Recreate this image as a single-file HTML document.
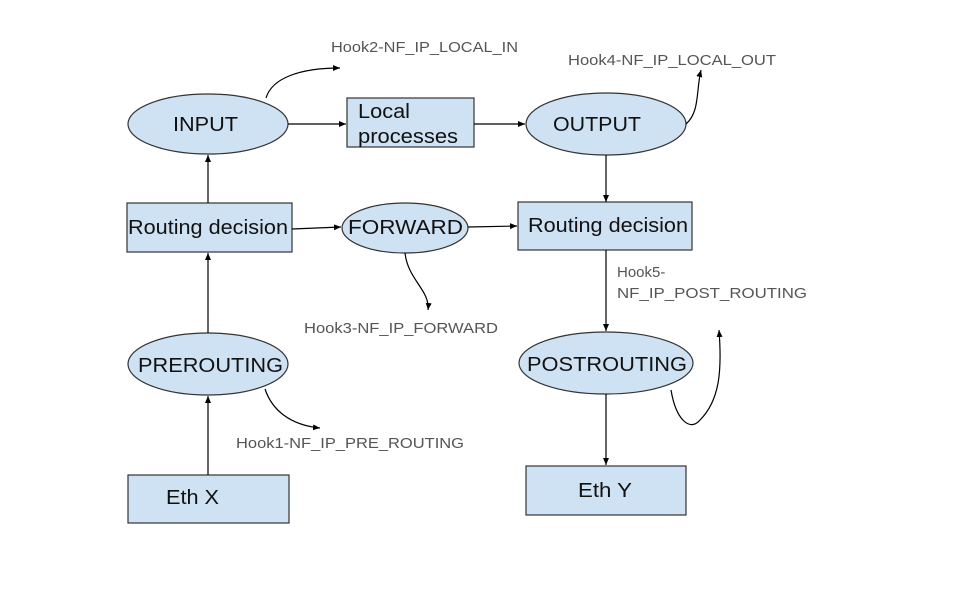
<!DOCTYPE html>
<html><head><meta charset="utf-8"><style>
html,body{margin:0;padding:0;background:#fff;}
svg{display:block;}
.n{font-family:"Liberation Sans",sans-serif;font-size:20px;fill:#111;}
.h{font-family:"Liberation Sans",sans-serif;font-size:15px;fill:#555;}
</style></head><body>
<svg width="972" height="602" viewBox="0 0 972 602" xmlns="http://www.w3.org/2000/svg">
<defs><marker id="a" markerWidth="8" markerHeight="8" refX="7" refY="4" orient="auto" markerUnits="userSpaceOnUse"><path d="M0,1 L7,4 L0,7 z" fill="#000"/></marker></defs>
<g fill="#cfe2f3" stroke="#333" stroke-width="1.2">
<ellipse cx="208" cy="124" rx="80" ry="30"/>
<rect x="347" y="98" width="127" height="49"/>
<ellipse cx="606" cy="124" rx="80" ry="31"/>
<rect x="127" y="203" width="165" height="49"/>
<ellipse cx="405" cy="228" rx="63" ry="25"/>
<rect x="518" y="202" width="174" height="48"/>
<ellipse cx="208" cy="364" rx="80" ry="31"/>
<ellipse cx="606" cy="363" rx="87" ry="31"/>
<rect x="128" y="475" width="161" height="48"/>
<rect x="526" y="466" width="160" height="49"/>
</g>
<g stroke="#000" stroke-width="1.2" fill="none" marker-end="url(#a)">
<line x1="288" y1="124" x2="346" y2="124"/>
<line x1="474" y1="124" x2="525" y2="124"/>
<line x1="208" y1="203" x2="208" y2="155"/>
<line x1="208" y1="333" x2="208" y2="253"/>
<line x1="208" y1="475" x2="208" y2="396"/>
<line x1="292" y1="229" x2="341" y2="227"/>
<line x1="468" y1="227" x2="517" y2="226"/>
<line x1="606" y1="155" x2="606" y2="202"/>
<line x1="606" y1="250" x2="606" y2="331"/>
<line x1="606" y1="394" x2="606" y2="465"/>
<path d="M266,98 C272,78 300,68 340,68"/>
<path d="M686,124 C700,112 696,90 701,70"/>
<path d="M405,253 C408,280 430,290 428,310"/>
<path d="M265,389 C272,410 290,425 320,428"/>
<path d="M671,390 C676,420 690,432 700,420 C720,400 722,370 719,330"/>
</g>
<text class="n" x="173" y="131" textLength="65" lengthAdjust="spacingAndGlyphs">INPUT</text>
<text class="n" x="358" y="118" textLength="52" lengthAdjust="spacingAndGlyphs">Local</text>
<text class="n" x="358" y="143" textLength="100" lengthAdjust="spacingAndGlyphs">processes</text>
<text class="n" x="553" y="131" textLength="88" lengthAdjust="spacingAndGlyphs">OUTPUT</text>
<text class="n" x="128" y="234" textLength="160" lengthAdjust="spacingAndGlyphs">Routing decision</text>
<text class="n" x="348" y="234" textLength="115" lengthAdjust="spacingAndGlyphs">FORWARD</text>
<text class="n" x="528" y="232" textLength="160" lengthAdjust="spacingAndGlyphs">Routing decision</text>
<text class="n" x="138" y="372" textLength="145" lengthAdjust="spacingAndGlyphs">PREROUTING</text>
<text class="n" x="527" y="371" textLength="160" lengthAdjust="spacingAndGlyphs">POSTROUTING</text>
<text class="n" x="166" y="504" textLength="53" lengthAdjust="spacingAndGlyphs">Eth X</text>
<text class="n" x="578" y="497" textLength="54" lengthAdjust="spacingAndGlyphs">Eth Y</text>
<text class="h" x="331" y="52" textLength="187" lengthAdjust="spacingAndGlyphs">Hook2-NF_IP_LOCAL_IN</text>
<text class="h" x="568" y="65" textLength="208" lengthAdjust="spacingAndGlyphs">Hook4-NF_IP_LOCAL_OUT</text>
<text class="h" x="304" y="333" textLength="194" lengthAdjust="spacingAndGlyphs">Hook3-NF_IP_FORWARD</text>
<text class="h" x="617" y="277">Hook5-</text>
<text class="h" x="617" y="298" textLength="190" lengthAdjust="spacingAndGlyphs">NF_IP_POST_ROUTING</text>
<text class="h" x="236" y="448" textLength="228" lengthAdjust="spacingAndGlyphs">Hook1-NF_IP_PRE_ROUTING</text>
</svg>
</body></html>
